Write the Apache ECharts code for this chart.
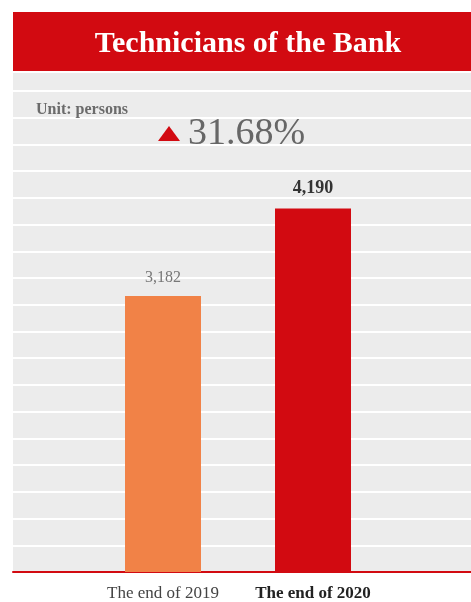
<!DOCTYPE html>
<html>
<head>
<meta charset="utf-8">
<script src="https://cdn.jsdelivr.net/npm/echarts@6/dist/echarts.min.js"></script>
<style>
  html, body { margin: 0; padding: 0; background: #fff; }
  #chart { width: 471px; height: 602px; }
</style>
</head>
<body>
<div id="chart"></div>
<script>
// chart data
var categories = ['The end of 2019', 'The end of 2020'];
var values = [3182, 4190];
var titleText = 'Technicians of the Bank';
var unitText = 'Unit: persons';

var growth = ((values[1] - values[0]) / values[0] * 100).toFixed(2) + '%';
var serif = '"Liberation Serif", "DejaVu Serif", serif';
var red = '#d20a11';
var orange = '#f18247';

var chart = echarts.init(document.getElementById('chart'));

var option = {
  animation: false,
  backgroundColor: '#fff',
  title: [{
    text: titleText,
    left: 243, top: 24, textAlign: 'center',
    textStyle: { color: '#fff', fontFamily: serif, fontWeight: 'bold', fontSize: 30 }
  }, {
    text: unitText,
    left: 31, top: 97,
    textStyle: { color: '#6b6b6b', fontFamily: serif, fontWeight: 'bold', fontSize: 16 }
  }, {
    text: growth,
    left: 183, top: 110,
    textStyle: { color: '#666', fontFamily: serif, fontWeight: 'normal', fontSize: 38 }
  }],
  graphic: [{
    type: 'rect',
    shape: { x: 13, y: 12, width: 458, height: 61 },
    style: { fill: red },
    z: 0
  }, {
    type: 'polygon',
    shape: { points: [[158, 141], [180, 141], [169, 126]] },
    style: { fill: red }
  }],
  grid: [
    { left: 13, right: 0, top: 72, bottom: 30, show: true, backgroundColor: '#ececec', borderWidth: 0 },
    { left: 88, width: 300, top: 72, bottom: 30 }
  ],
  xAxis: [{
    type: 'category', gridIndex: 0, data: [''],
    axisLine: { show: true, lineStyle: { color: red, width: 2 } },
    axisTick: { show: false }, axisLabel: { show: false }, splitLine: { show: false }
  }, {
    type: 'category', gridIndex: 1, data: categories,
    axisLine: { show: false }, axisTick: { show: false },
    axisLabel: {
      margin: 13,
      formatter: function (v, i) { return i === 1 ? '{b|' + v + '}' : '{a|' + v + '}'; },
      rich: {
        a: { color: '#444', fontFamily: serif, fontSize: 17 },
        b: { color: '#222', fontFamily: serif, fontSize: 17, fontWeight: 'bold' }
      }
    }
  }],
  yAxis: [{
    type: 'value', gridIndex: 0, min: 0, max: 5763, interval: 308,
    axisLine: { show: false }, axisTick: { show: false }, axisLabel: { show: false },
    splitLine: { show: true, lineStyle: { color: '#fff', width: 2 } }
  }, {
    type: 'value', gridIndex: 1, min: 0, max: 5763,
    axisLine: { show: false }, axisTick: { show: false }, axisLabel: { show: false },
    splitLine: { show: false }
  }],
  series: [{
    type: 'bar',
    xAxisIndex: 1, yAxisIndex: 1,
    barWidth: 76,
    data: [{
      value: values[0],
      itemStyle: { color: orange },
      label: { distance: 10, color: '#777', fontWeight: 'normal', fontSize: 16 }
    }, {
      value: values[1],
      itemStyle: { color: red },
      label: { distance: 11, color: '#333', fontWeight: 'bold', fontSize: 18 }
    }],
    label: {
      show: true, position: 'top', fontFamily: serif,
      formatter: function (p) { return p.value.toLocaleString('en-US'); }
    }
  }]
};

chart.setOption(option);
</script>
</body>
</html>
